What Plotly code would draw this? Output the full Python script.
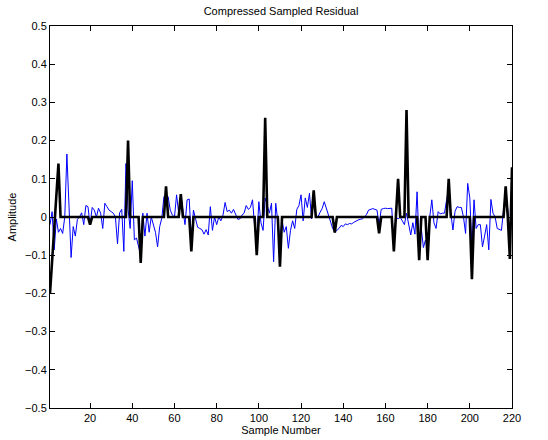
import plotly.graph_objects as go

# Sample numbers 1..220
samples = list(range(1, 221))

# Residual (blue, thin)
residual = [
    -0.020, 0.014, -0.086, -0.005, -0.040, -0.030, -0.043, 0.000, 0.165, 0.030,    # 1-10
    -0.106, -0.025, -0.050, -0.006, 0.000, 0.011, -0.020, 0.030, 0.027, -0.020,    # 11-20
    0.025, 0.018, 0.000, 0.023, 0.010, -0.030, 0.036, 0.027, 0.018, 0.014,         # 21-30
    0.010, 0.000, -0.070, 0.011, 0.020, -0.090, 0.140, 0.020, -0.030, 0.095,       # 31-40
    -0.060, -0.055, -0.078, -0.100, 0.010, -0.050, 0.010, -0.040, 0.000, -0.020,   # 41-50
    -0.040, -0.078, -0.025, -0.003, 0.053, 0.045, 0.053, 0.018, 0.005, 0.000,      # 51-60
    0.058, 0.010, 0.058, 0.018, -0.020, 0.045, 0.047, -0.060, 0.018, -0.005,       # 61-70
    -0.027, -0.030, -0.033, -0.045, -0.033, -0.047, 0.027, -0.035, 0.000, -0.020,  # 71-80
    0.000, -0.010, 0.005, 0.038, 0.014, 0.018, 0.010, 0.020, 0.008, -0.006,        # 81-90
    -0.005, 0.005, 0.010, 0.030, 0.020, 0.025, 0.045, -0.025, -0.060, 0.040,       # 91-100
    -0.015, -0.035, 0.050, 0.027, 0.010, 0.036, -0.117, 0.036, -0.010, -0.060,     # 101-110
    -0.008, -0.040, -0.025, -0.082, -0.035, -0.010, -0.030, 0.020, 0.030, 0.058,   # 111-120
    -0.010, 0.050, 0.025, 0.062, -0.005, 0.060, 0.005, 0.000, 0.012, 0.022,        # 121-130
    0.040, 0.023, 0.000, -0.012, -0.030, -0.040, -0.035, -0.030, -0.022, -0.025,   # 131-140
    -0.018, -0.020, -0.017, -0.018, -0.014, -0.010, -0.008, -0.006, -0.005, 0.000, # 141-150
    0.006, 0.018, 0.020, 0.022, 0.020, 0.018, -0.020, 0.020, 0.022, 0.023,         # 151-160
    0.022, 0.023, 0.023, -0.078, 0.000, -0.005, 0.000, -0.010, -0.020, 0.010,      # 161-170
    -0.020, -0.047, -0.015, -0.045, 0.066, -0.075, -0.030, -0.080, -0.060, -0.080, # 171-180
    0.000, 0.045, -0.015, -0.030, 0.014, 0.008, 0.010, 0.010, 0.045, 0.070,        # 181-190
    0.010, -0.034, 0.015, 0.027, 0.025, 0.025, 0.000, -0.043, 0.088, 0.050,        # 191-200
    -0.080, 0.045, -0.030, -0.020, -0.020, -0.078, -0.050, -0.020, -0.086, 0.046,  # 201-210
    0.010, 0.000, -0.030, -0.032, -0.035, 0.020, 0.060, 0.020, -0.060, 0.050,      # 211-220
]

# Compressed sampled residual (black, thick)
compressed = [
    -0.200, -0.115, -0.030, 0.055, 0.140, 0, 0, 0, 0, 0,     # 1-10
    0, 0, 0, 0, 0, 0, 0, 0, 0, -0.020,                       # 11-20
    0, 0, 0, 0, 0, 0, 0, 0, 0, 0,                            # 21-30
    0, 0, 0, 0, 0, 0, 0, 0.200, 0, 0,                        # 31-40
    0, 0, 0, -0.120, 0, 0, 0, 0, 0, 0,                       # 41-50
    0, 0, 0, 0, 0, 0.080, 0, 0, 0, 0,                        # 51-60
    0, 0, 0.060, 0, 0, 0, 0, -0.090, 0, 0,                   # 61-70
    0, 0, 0, 0, 0, 0, 0, 0, 0, 0,                            # 71-80
    0, 0, 0, 0, 0, 0, 0, 0, 0, 0,                            # 81-90
    0, 0, 0, 0, 0, 0, 0, 0, -0.100, 0,                       # 91-100
    0, 0, 0.260, 0, 0, 0, 0, 0, 0, -0.130,                   # 101-110
    0, 0, 0, 0, 0, 0, 0, 0, 0, 0,                            # 111-120
    0, 0, 0, 0, 0, 0.070, 0, 0, 0, 0,                        # 121-130
    0, 0, 0, 0, 0, -0.041, 0, 0, 0, 0,                       # 131-140
    0, 0, 0, 0, 0, 0, 0, 0, 0, 0,                            # 141-150
    0, 0, 0, 0, 0, 0, -0.043, 0, 0, 0,                       # 151-160
    0, 0, 0, -0.090, 0, 0.100, 0, 0, 0, 0.280,               # 161-170
    0, 0, 0, 0, 0, -0.113, 0, 0, 0, -0.113,                  # 171-180
    0, 0, 0, 0, 0, 0, 0, 0, 0, 0.100,                        # 181-190
    0, 0, 0, 0, 0, 0, 0, 0, 0, 0,                            # 191-200
    -0.163, 0, 0, 0, 0, 0, 0, 0, 0, 0,                       # 201-210
    0, 0, 0, 0, 0, 0, 0.080, 0, -0.110, 0.130,               # 211-220
]

x_ticks = [20, 40, 60, 80, 100, 120, 140, 160, 180, 200, 220]
y_ticks = [-0.5, -0.4, -0.3, -0.2, -0.1, 0, 0.1, 0.2, 0.3, 0.4, 0.5]
y_tick_text = ["\u22120.5", "\u22120.4", "\u22120.3", "\u22120.2", "\u22120.1", "0",
               "0.1", "0.2", "0.3", "0.4", "0.5"]

FONT = "Liberation Sans, Arial, Helvetica, sans-serif"

fig = go.Figure()
fig.add_trace(go.Scatter(x=samples, y=residual, mode="lines",
                         line=dict(color="#0000ff", width=1), showlegend=False))
fig.add_trace(go.Scatter(x=samples, y=compressed, mode="lines",
                         line=dict(color="#000000", width=2.6), showlegend=False))

fig.update_layout(
    width=548, height=440,
    margin=dict(l=50, r=36, t=26, b=32, autoexpand=False),
    paper_bgcolor="white", plot_bgcolor="white",
    font=dict(family=FONT, size=11, color="black"),
    title=dict(text="Compressed Sampled Residual", x=0.5, xref="paper",
               y=1 - 11 / 440, yref="container", yanchor="middle",
               font=dict(family=FONT, size=11, color="black")),
)
fig.update_xaxes(
    range=[1, 220], tickvals=x_ticks, ticks="inside", ticklen=5, tickcolor="black",
    showline=True, linecolor="black", linewidth=1, mirror="allticks",
    showgrid=False, zeroline=False, automargin=False,
    tickfont=dict(family=FONT, size=11),
    title=dict(text="Sample Number", standoff=0, font=dict(family=FONT, size=11)),
)
fig.update_yaxes(
    range=[-0.5, 0.5], tickvals=y_ticks, ticktext=y_tick_text,
    ticks="inside", ticklen=5, tickcolor="black",
    showline=True, linecolor="black", linewidth=1, mirror="allticks",
    showgrid=False, zeroline=False, automargin=False,
    tickfont=dict(family=FONT, size=11),
    title=dict(text="Amplitude", standoff=6, font=dict(family=FONT, size=11)),
)

fig.write_html("out.html", config={"displayModeBar": False},
               post_script="document.body.style.margin='0px';")
